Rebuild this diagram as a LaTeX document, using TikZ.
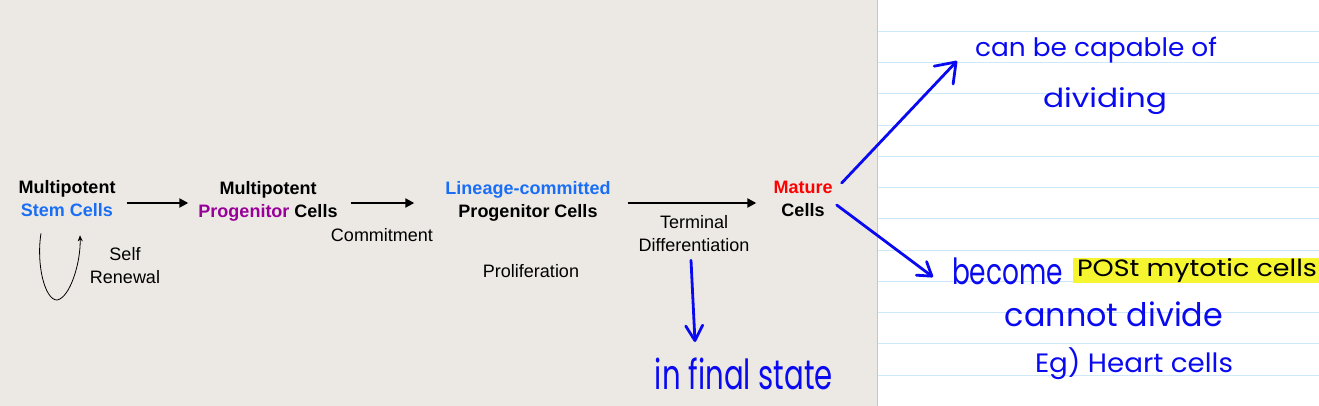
\documentclass[tikz,border=0pt]{standalone}
\usepackage{fontspec}
\setmainfont{Liberation Sans}
\newfontfamily\hand{Poppins}
\usetikzlibrary{arrows.meta}
\definecolor{bg}{HTML}{ECE9E5}
\definecolor{sblue}{HTML}{1A6EF5}
\definecolor{purp}{HTML}{990099}
\definecolor{mred}{HTML}{FF0000}
\definecolor{ink}{HTML}{0A0AF0}
\definecolor{rule}{HTML}{CDE8F8}
\definecolor{hl}{HTML}{F5F530}
\newcommand{\hw}[3]{\resizebox*{#1pt}{#2pt}{\hand #3}}
\tikzset{
  lbl/.style={inner sep=0pt, align=center, font=\fontsize{18}{23}\selectfont},
  blbl/.style={lbl, font=\fontsize{18}{23}\selectfont\bfseries},
  flow/.style={line width=2.2pt, -{Triangle[length=9pt,width=9pt]}},
  loopline/.style={line width=0.8pt, -{Stealth[length=6pt,width=5pt]}},
  handtxt/.style={inner sep=0pt, text=ink},
  harr/.style={draw=ink, line width=2.8pt, line cap=round},
  papline/.style={draw=rule, line width=1pt}
}
\begin{document}
\begin{tikzpicture}[x=1pt,y=-1pt]
\useasboundingbox (0,0) rectangle (1319,406);
\fill[bg] (0,0) rectangle (877,406);
\fill[white] (877,0) rectangle (1319,406);
\foreach \i in {1,...,12} \draw[papline] (878,{31.27*\i}) -- (1319,{31.27*\i});
\draw[gray!45, line width=1pt] (877.5,0) -- (877.5,406);

% typed labels
\node[blbl] (msc) at (67,199) {Multipotent\\\textcolor{sblue}{Stem Cells}};
\node[blbl] (mpc) at (268,201) {Multipotent\\\textcolor{purp}{Progenitor} Cells};
\node[blbl] (lcp) at (528,201) {\textcolor{sblue}{Lineage-committed}\\Progenitor Cells};
\node[blbl] (mat) at (803,199) {\textcolor{mred}{Mature}\\Cells};
\node[lbl] (sr) at (125,266) {Self\\Renewal};
\node[lbl, anchor=base] (com) at (382,241) {Commitment};
\node[lbl, anchor=base] (pro) at (531,277) {Proliferation};
\node[lbl] (td) at (694,234) {Terminal\\Differentiation};

\coordinate (ay) at (0,203);
\draw[flow] ([xshift=11pt]msc.east |- ay) -- ([xshift=-10pt]mpc.west |- ay);
\draw[flow] ([xshift=13pt]mpc.east |- ay) -- ([xshift=-31pt]lcp.west |- ay);
\draw[flow] ([xshift=17pt]lcp.east |- ay) -- ([xshift=-17pt]mat.west |- ay);

\draw[loopline] ([xshift=-26pt,yshift=-16pt]msc.south) .. controls (36,265) and (45,300) .. (57,300)
  .. controls (70,298) and (81,262) .. ([xshift=13pt,yshift=-18pt]msc.south);

% handwritten notes
\fill[hl] (1073,258) rectangle (1319,283);
\node[handtxt] (h1) at (1096,50) {\hw{242}{26}{can be capable of}};
\node[handtxt] (h2) at (1105,101) {\hw{124}{27}{dividing}};
\node[handtxt] (h3) at (1007.5,271.5) {\hw{111}{27}{become}};
\node[handtxt, text=black] (h4) at (1197,271) {\hw{240}{24}{POSt mytotic cells}};
\node[handtxt] (h5) at (1114,314.5) {\hw{218}{25}{cannot divide}};
\node[handtxt] (h6) at (1134,364) {\hw{198}{32}{Eg) Heart cells}};
\node[handtxt] (h7) at (744,374) {\hw{178}{32}{in final state}};

\coordinate (t1) at (957,61);
\coordinate (t2) at (933,277);
\coordinate (t3) at (695,342);
\draw[harr, -{Straight Barb[length=18pt,width=26pt,round]}] ([xshift=9pt,yshift=16pt]mat.east) -- (t1);
\draw[harr, -{Straight Barb[length=13pt,width=17pt,round]}] ([xshift=4pt,yshift=-6pt]mat.east) -- (t2);
\draw[harr, -{Straight Barb[length=15pt,width=17pt,round]}] ([xshift=-3pt,yshift=-8pt]td.south) -- (t3);
\end{tikzpicture}
\end{document}
